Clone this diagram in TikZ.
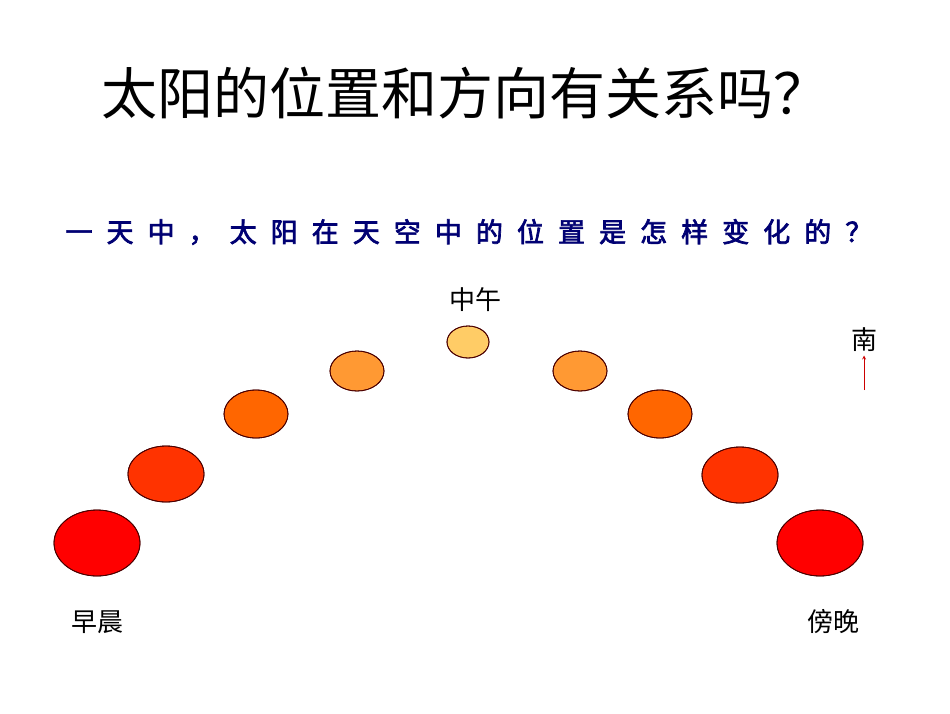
\documentclass[tikz,border=0pt]{standalone}
\usepackage{fontspec}
\newfontfamily\cjk{Noto Sans CJK SC}
\newfontfamily\cjksp{Noto Sans CJK SC}[LetterSpace=52,FakeBold=2.5]
\begin{document}
\begin{tikzpicture}[x=1pt,y=-1pt,
  sun/.style={draw=black!70!red,line width=0.8pt},
  lbl/.style={font=\cjk\fontsize{26}{30}\selectfont}]
\useasboundingbox[fill=white] (0,0) rectangle (950,713);
\node[font=\cjk\fontsize{56}{62}\selectfont] (title) at (465,93) {太阳的位置和方向有关系吗？};
\node[font=\cjksp\fontsize{27}{30}\selectfont,text=blue!45!black,anchor=west] (sub) at (62,232) {一天中，太阳在天空中的位置是怎样变化的？};
\definecolor{c1}{HTML}{FF0000}\definecolor{c2}{HTML}{FF3300}
\definecolor{c3}{HTML}{FF6600}\definecolor{c4}{HTML}{FF9933}\definecolor{c5}{HTML}{FFCC66}
\fill[sun,fill=c1] (97,543) ellipse [x radius=43,y radius=33];
\fill[sun,fill=c2] (166,474) ellipse [x radius=38,y radius=28];
\fill[sun,fill=c3] (256,414) ellipse [x radius=32,y radius=24];
\fill[sun,fill=c4] (357,371) ellipse [x radius=27,y radius=20];
\fill[sun,fill=c5] (468,342) ellipse [x radius=21,y radius=16];
\fill[sun,fill=c4] (580,371) ellipse [x radius=27,y radius=20];
\fill[sun,fill=c3] (660,414) ellipse [x radius=32,y radius=24];
\fill[sun,fill=c2] (740,475) ellipse [x radius=38,y radius=28];
\fill[sun,fill=c1] (820,543) ellipse [x radius=43,y radius=33];
\draw[sun] (97,543) ellipse [x radius=43,y radius=33] (166,474) ellipse [x radius=38,y radius=28]
 (256,414) ellipse [x radius=32,y radius=24] (357,371) ellipse [x radius=27,y radius=20]
 (468,342) ellipse [x radius=21,y radius=16] (580,371) ellipse [x radius=27,y radius=20]
 (660,414) ellipse [x radius=32,y radius=24] (740,475) ellipse [x radius=38,y radius=28]
 (820,543) ellipse [x radius=43,y radius=33];
\node[lbl] (noon) at (475,300) {中午};
\node[lbl] (morn) at (97,622) {早晨};
\node[lbl] (eve) at (833,622) {傍晚};
\node[lbl] (south) at (864,340) {南};
\coordinate (a0) at (south.south |- 0,390);
\draw[red!80!black,line width=0.8pt,-stealth] (a0) -- (south.south);
\end{tikzpicture}
\end{document}
